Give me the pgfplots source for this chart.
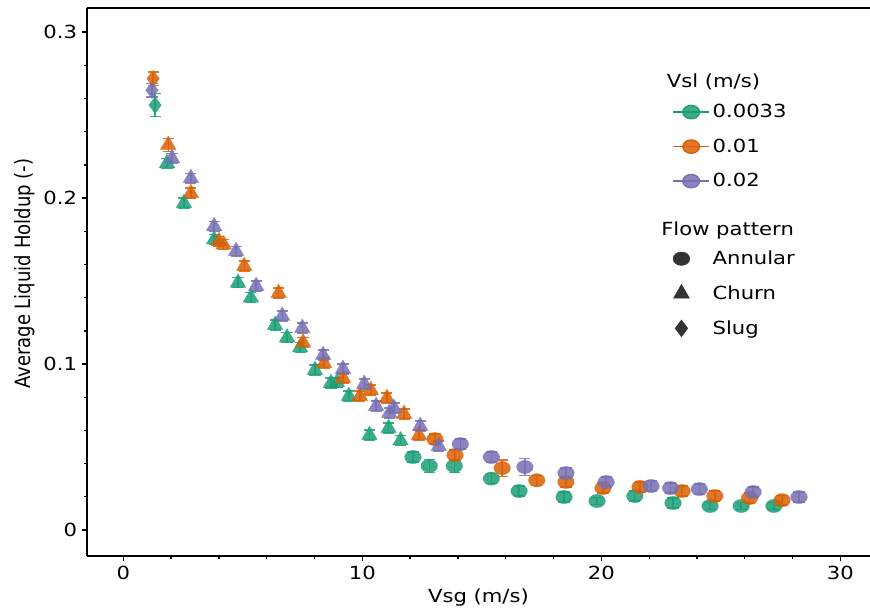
\documentclass[border=0pt]{standalone}
\usepackage{fontspec}
\setmainfont{DejaVu Sans}[FakeStretch=1.17]
\newfontfamily\plainfont{DejaVu Sans}
\usepackage{pgfplots}
\usepackage{pgfplotstable}
\pgfplotsset{compat=1.18}
\definecolor{cgreen}{HTML}{1B9E77}
\definecolor{corange}{HTML}{D95F02}
\definecolor{cpurple}{HTML}{7570B3}
\definecolor{cdark}{HTML}{333333}

% Vsl = 0.0033 m/s
\pgfplotstableread{
x y e
1.33 0.256 0.007
}\gslug
\pgfplotstableread{
x y e
1.83 0.221 0.003
2.54 0.197 0.003
3.80 0.175 0.003
4.80 0.149 0.003
5.34 0.140 0.003
6.35 0.1235 0.003
6.85 0.116 0.003
7.40 0.110 0.003
8.02 0.0964 0.003
8.69 0.0886 0.003
8.94 0.089 0.003
9.44 0.0807 0.003
10.30 0.0572 0.003
11.10 0.0614 0.003
11.60 0.054 0.003
}\gchurn
\pgfplotstableread{
x y e
12.12 0.044 0.003
12.80 0.0386 0.004
13.85 0.0386 0.004
15.40 0.031 0.003
16.56 0.0235 0.003
18.44 0.0199 0.003
19.82 0.0175 0.002
21.40 0.0205 0.003
23.00 0.0163 0.003
24.55 0.0145 0.002
25.85 0.0145 0.002
27.22 0.0145 0.002
}\gann
% Vsl = 0.01 m/s
\pgfplotstableread{
x y e
1.25 0.272 0.004
}\oslug
\pgfplotstableread{
x y e
1.88 0.232 0.004
2.83 0.203 0.003
4.00 0.174 0.003
4.20 0.172 0.003
5.06 0.159 0.003
6.50 0.1428 0.003
7.52 0.113 0.003
8.40 0.1006 0.003
9.19 0.0916 0.003
9.90 0.0807 0.003
10.36 0.0843 0.003
11.03 0.0795 0.003
11.75 0.0699 0.003
12.37 0.0572 0.003
}\ochurn
\pgfplotstableread{
x y e
13.04 0.0548 0.003
13.88 0.0452 0.003
15.85 0.0373 0.005
17.30 0.030 0.003
18.52 0.029 0.003
20.07 0.0253 0.003
21.62 0.026 0.003
23.38 0.0235 0.003
24.75 0.0205 0.003
26.20 0.0193 0.003
27.56 0.018 0.003
}\oann
% Vsl = 0.02 m/s
\pgfplotstableread{
x y e
1.20 0.265 0.004
}\pslug
\pgfplotstableread{
x y e
2.04 0.224 0.003
2.83 0.212 0.003
3.80 0.183 0.003
4.72 0.168 0.003
5.56 0.147 0.003
6.65 0.129 0.003
7.49 0.1217 0.003
8.36 0.1054 0.003
9.19 0.097 0.003
10.08 0.088 0.003
10.58 0.0747 0.003
11.13 0.0705 0.003
11.33 0.0735 0.003
12.42 0.0627 0.003
13.20 0.0506 0.003
}\pchurn
\pgfplotstableread{
x y e
14.10 0.0518 0.003
15.40 0.044 0.003
16.80 0.038 0.005
18.52 0.0343 0.003
20.20 0.0289 0.003
22.08 0.0265 0.003
22.90 0.0253 0.003
24.10 0.0247 0.003
26.35 0.0229 0.003
28.27 0.0199 0.003
}\pann

\pgfplotsset{
  errs/.style={forget plot, error bars/.cd, y dir=both, y explicit,
    error bar style={line width=1pt, opacity=0.85},
    error mark options={rotate=90, line width=1pt, mark size=4pt, opacity=0.85}},
  markleg/.style={legend image code/.code={
    \draw[#1, only marks] plot coordinates {(6pt,0pt)};
    \path (0pt,0pt) (26pt,0pt);}},
}

\begin{document}
\begin{tikzpicture}
\begin{axis}[
  scale only axis, width=563.8pt, height=394.6pt,
  xmin=-1.52, xmax=31.24, ymin=-0.0157, ymax=0.3145,
  axis y line*=left, axis x line*=box,
  xtick={0,10,20,30}, xticklabels={0,10,20,30},
  ytick={0,0.1,0.2,0.3}, yticklabels={0,0.1,0.2,0.3},
  minor x tick num=4, minor y tick num=4,
  tick align=outside, xtick pos=left,
  major tick length=3.6pt, minor tick length=2.2pt,
  every tick/.style={black, line width=0.9pt},
  axis line style={line width=1.2pt},
  tick label style={font=\fontsize{13}{15}\selectfont},
  label style={font=\fontsize{13}{15}\selectfont},
  /pgf/number format/assume math mode=true,
  xlabel={Vsg (m/s)},
  ylabel={\scalebox{1}[1.17]{\plainfont Average Liquid Holdup (-)}},
  ylabel style={yshift=-1pt, xshift=6pt},
  legend cell align=left,
  legend style={at={(axis description cs:0.742,0.8985)}, anchor=north west,
    draw=none, fill=none, row sep=9.7pt, font=\fontsize{13}{15}\selectfont},
  legend image code/.code={\draw[mark repeat=2,mark phase=2,#1]
    plot coordinates {(0pt,0pt) (13pt,0pt) (26pt,0pt)};},
]
% 0.0033
\addplot[only marks, color=cgreen, mark=diamond*, mark size=6pt,
  mark options={fill=cgreen, draw=cgreen, fill opacity=0.85, draw opacity=0.5},
  errs] table[x=x, y=y, y error=e] {\gslug};
\addplot[only marks, color=cgreen, mark=triangle*, mark size=6.5pt,
  mark options={fill=cgreen, draw=cgreen, fill opacity=0.85, draw opacity=0.5},
  errs] table[x=x, y=y, y error=e] {\gchurn};
\addplot[only marks, color=cgreen, mark=*, mark size=4.8pt,
  mark options={xscale=1.25, fill=cgreen, draw=cgreen, fill opacity=0.85, draw opacity=0.5},
  errs] table[x=x, y=y, y error=e] {\gann};
% 0.01
\addplot[only marks, color=corange, mark=diamond*, mark size=6pt,
  mark options={fill=corange, draw=corange, fill opacity=0.85, draw opacity=0.5},
  errs] table[x=x, y=y, y error=e] {\oslug};
\addplot[only marks, color=corange, mark=triangle*, mark size=6.5pt,
  mark options={fill=corange, draw=corange, fill opacity=0.85, draw opacity=0.5},
  errs] table[x=x, y=y, y error=e] {\ochurn};
\addplot[only marks, color=corange, mark=*, mark size=4.8pt,
  mark options={xscale=1.25, fill=corange, draw=corange, fill opacity=0.85, draw opacity=0.5},
  errs] table[x=x, y=y, y error=e] {\oann};
% 0.02
\addplot[only marks, color=cpurple, mark=diamond*, mark size=6pt,
  mark options={fill=cpurple, draw=cpurple, fill opacity=0.85, draw opacity=0.5},
  errs] table[x=x, y=y, y error=e] {\pslug};
\addplot[only marks, color=cpurple, mark=triangle*, mark size=6.5pt,
  mark options={fill=cpurple, draw=cpurple, fill opacity=0.85, draw opacity=0.5},
  errs] table[x=x, y=y, y error=e] {\pchurn};
\addplot[only marks, color=cpurple, mark=*, mark size=4.8pt,
  mark options={xscale=1.25, fill=cpurple, draw=cpurple, fill opacity=0.85, draw opacity=0.5},
  errs] table[x=x, y=y, y error=e] {\pann};

% legend
\addlegendimage{empty legend}
\addlegendentry{\hspace*{-33pt}\raisebox{-3pt}[\height][0pt]{Vsl (m/s)}}
\addlegendimage{cgreen, line width=1pt, mark=*, mark size=4.8pt,
  mark options={xscale=1.25, fill=cgreen, fill opacity=0.85}}
\addlegendentry{0.0033}
\addlegendimage{corange, line width=1pt, mark=*, mark size=4.8pt,
  mark options={xscale=1.25, fill=corange, fill opacity=0.85}}
\addlegendentry{0.01}
\addlegendimage{cpurple, line width=1pt, mark=*, mark size=4.8pt,
  mark options={xscale=1.25, fill=cpurple, fill opacity=0.85}}
\addlegendentry{0.02}
\addlegendimage{empty legend}
\addlegendentry{\hspace*{-37pt}\rule{0pt}{15.7pt}\raisebox{-4pt}[\height][0pt]{Flow pattern}}
\addlegendimage{markleg, cdark, mark=*, mark size=4.8pt,
  mark options={xscale=1.25, fill=cdark}}
\addlegendentry{Annular}
\addlegendimage{markleg, cdark, mark=triangle*, mark size=6.5pt,
  mark options={fill=cdark}}
\addlegendentry{Churn}
\addlegendimage{markleg, cdark, mark=diamond*, mark size=6pt,
  mark options={fill=cdark}}
\addlegendentry{Slug}
\end{axis}
\pgfresetboundingbox
\path ([xshift=-62.6pt,yshift=-39.6pt]current axis.south west)
  rectangle ([yshift=5.8pt]current axis.north east);
\end{tikzpicture}
\end{document}
